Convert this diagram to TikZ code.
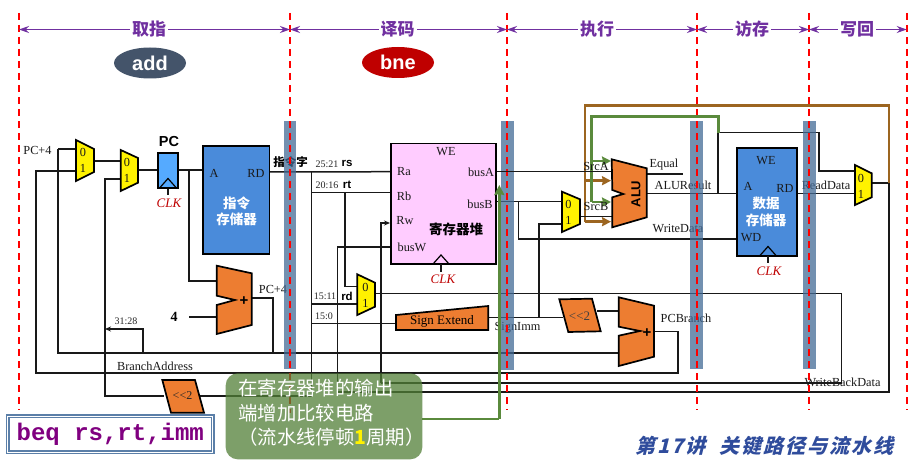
\documentclass[tikz,border=0pt]{standalone}
\usepackage{fontspec}
\usetikzlibrary{arrows.meta,calc,shapes.geometric}
\setmainfont{Liberation Serif}
\newfontfamily\cjk{Noto Sans CJK SC}
\newfontfamily\ttlfont[FakeSlant=0.25,LetterSpace=10,BoldFeatures={FakeSlant=0.25,LetterSpace=10}]{Noto Sans CJK SC}
\newfontfamily\hvb{Liberation Sans}
\newfontfamily\mon{Liberation Mono}
\definecolor{purp}{HTML}{7030A0}
\definecolor{brownw}{HTML}{9C6520}
\definecolor{greenw}{HTML}{5A8A3C}
\definecolor{greenb}{HTML}{528037}
\definecolor{barc}{HTML}{436B96}
\definecolor{orangeb}{HTML}{ED7D31}
\definecolor{memb}{HTML}{4A8BDA}
\definecolor{pcb}{HTML}{55AAFF}
\definecolor{regb}{HTML}{FFCCFF}
\definecolor{ttlc}{HTML}{2F4C9C}
\definecolor{beqb}{HTML}{5B7FA8}
\tikzset{
  wire/.style={draw=black!90,line width=1.5pt,line join=miter},
  arrw/.style={wire,-{Stealth[length=6pt,width=5pt]}},
  brownl/.style={draw=brownw,line width=2.6pt},
  brownarr/.style={brownl,-{Stealth[length=9pt,width=9pt,inset=1pt]}},
  greenl/.style={draw=greenw,line width=2.6pt},
  greenarr/.style={greenl,-{Stealth[length=9pt,width=9pt,inset=1pt]}},
  span/.style={draw=purp,line width=1.1pt,{Stealth[length=10pt,width=7pt]}-{Stealth[length=10pt,width=7pt]}},
  phase/.style={fill=white,inner xsep=2pt,inner ysep=0pt,text=purp,font=\cjk\bfseries\fontsize{17}{17}\selectfont},
  instr/.style={ellipse,minimum width=72pt,minimum height=31pt,inner sep=0pt,text=white,font=\hvb\bfseries\fontsize{20}{20}\selectfont},
  stagebar/.style={fill=barc,opacity=.75,draw=none},
  stagedash/.style={draw=red,line width=1.7pt,dash pattern=on 7pt off 5pt},
  muxs/.style={draw=black,fill=yellow,line width=1.7pt,line join=miter},
  alus/.style={draw=black,fill=orangeb,line width=1.7pt,line join=miter},
  blockm/.style={draw=black,fill=memb,line width=1.7pt,inner sep=0pt},
  lbl/.style={inner sep=0pt,font=\fontsize{12.3}{13}\selectfont,text=black!90},
  sml/.style={inner sep=0pt,font=\fontsize{10}{11}\selectfont,text=black!85},
  bld/.style={inner sep=0pt,font=\hvb\bfseries\fontsize{11.5}{12}\selectfont},
  clk/.style={inner sep=0pt,text=red!75!black,font=\itshape\fontsize{13}{14}\selectfont},
  memt/.style={inner sep=0pt,text=white,align=center,font=\cjk\bfseries\fontsize{13.5}{16.5}\selectfont},
  clkmark/.style={draw=black,line width=1.2pt,line join=miter},
}
\begin{document}
\begin{tikzpicture}[x=1pt,y=-1pt]
\useasboundingbox (0,0) rectangle (921,460);
\fill[white] (0,0) rectangle (921,460);

% ---------- named pins and junctions
\coordinate (m1a) at (76,149);   \coordinate (m1b) at (76,171);   \coordinate (m1o) at (94,161);
\coordinate (m2a) at (121,161);  \coordinate (m2b) at (121,179);  \coordinate (m2o) at (138,170);
\coordinate (pci) at (158,170);  \coordinate (pco) at (178,170);
\coordinate (ima) at (203,170);  \coordinate (imr) at (269.5,172);
\coordinate (pc4s) at (58,149);  \coordinate (j36) at (36,171);
\coordinate (j105a) at (105,179); \coordinate (j105b) at (105,396);
\coordinate (j36b) at (36,373);  \coordinate (j58b) at (58,353);
\coordinate (j189) at (189,170); \coordinate (j189b) at (189,281); \coordinate (a1a) at (217,281);
\coordinate (four) at (189,317); \coordinate (a1b) at (217,317);
\coordinate (a1o) at (252,298);  \coordinate (a1c) at (273,298); \coordinate (a1d) at (273,353);
\coordinate (br1) at (143,353);  \coordinate (br2) at (143,329); \coordinate (br3) at (105,329);
\coordinate (a2b) at (619,353);  \coordinate (a2a) at (619,311);  \coordinate (a2o) at (654,331.5);
\coordinate (a2c) at (678,331.5);\coordinate (a2d) at (678,373);
\coordinate (sl2o) at (597,311); \coordinate (sl2i) at (563,317.5);
\coordinate (seo) at (488,317.5);\coordinate (sei) at (396,323.5);
\coordinate (j539) at (539,317.5);\coordinate (j539b) at (539,224); \coordinate (m3b) at (562,224);
\coordinate (sb2o) at (200,396); \coordinate (sb2i) at (164,396);
\coordinate (j312) at (311.7,396);\coordinate (j312t) at (311.7,171.7);
\coordinate (j312r) at (311.7,192.7);\coordinate (j312d) at (311.7,304);\coordinate (j312e) at (311.7,323.5);
\coordinate (ra) at (391,171.7); \coordinate (rb) at (391,192.7);
\coordinate (j345) at (345,192.7);\coordinate (j345b) at (345,286.7);\coordinate (m4a) at (357,286.7);
\coordinate (m4b) at (357,304);  \coordinate (m4o) at (375,293.5);
\coordinate (j842t) at (841.7,293.5);\coordinate (j842b) at (841.7,383);\coordinate (j381b) at (381,383);
\coordinate (j381t) at (381,223);\coordinate (rw) at (390,223);
\coordinate (j338b) at (337.7,392);\coordinate (j338t) at (337.7,247);\coordinate (busw) at (391,247);
\coordinate (j889b) at (889,392);\coordinate (j889t) at (889,183);\coordinate (m5o) at (872,183);
\coordinate (busa) at (496,171.7);\coordinate (srca) at (612,171.7);
\coordinate (busb) at (496,201.7);\coordinate (m3a) at (562,201.7);
\coordinate (j518) at (518.3,201.7);\coordinate (j518b) at (518.3,239);\coordinate (wd) at (737,239);
\coordinate (m3o) at (580,216.7);\coordinate (srcb) at (612,216.7);
\coordinate (eqo) at (647,174);  \coordinate (eqe) at (682.5,174);
\coordinate (alo) at (647,193.5);\coordinate (dma) at (737,193.5);
\coordinate (j718) at (718,193.5);\coordinate (j718t) at (718,132.7);
\coordinate (j819t) at (819,132.7);\coordinate (j819b) at (819,171);\coordinate (m5a) at (855,171);
\coordinate (dmr) at (797,193.5);\coordinate (m5b) at (855,193.5);
\coordinate (bt1) at (889,105.5);\coordinate (bt2) at (585,105.5);\coordinate (bt3) at (585,221.7);
\coordinate (ba1) at (585,180.7);\coordinate (ba1e) at (611,180.7);\coordinate (ba2e) at (611,221.7);
\coordinate (g1) at (718.3,132.7);\coordinate (g2) at (718.3,116.7);\coordinate (g3) at (591.7,116.7);
\coordinate (g4) at (591.7,202);\coordinate (ga1) at (591.7,161);\coordinate (ga1e) at (611,161);\coordinate (ga2e) at (611,202);
\coordinate (cmpa) at (422,419);\coordinate (cmpb) at (499.3,419);\coordinate (cmpc) at (499.3,185);

% ---------- wires
\draw[wire] (pc4s) -- (m1a);
\draw[wire] (m1b) -- (j36) -- (j36b) -- (a2d) -- (a2c) -- (a2o);
\draw[wire] (m1o) -- (m2a);
\draw[wire] (m2o) -- (pci);
\draw[wire] (pco) -- (ima);
\draw[wire] (m2b) -- (j105a) -- (j105b) -- (sb2i);
\draw[wire] (j189) -- (j189b) -- (a1a);
\draw[wire] (four) -- (a1b);
\draw[wire] (a1o) -- (a1c) -- (a1d);
\draw[wire] (pc4s) -- (j58b) -- (a2b);
\draw[arrw] (br1) -- (br2) -- (br3);
\draw[wire] (imr) -- (ra);
\draw[wire] (j312t) -- (j312) -- (sb2o);
\draw[wire] (j312r) -- (rb);
\draw[wire] (j345) -- (j345b) -- (m4a);
\draw[wire] (j312d) -- (m4b);
\draw[wire] (j312e) -- (sei);
\draw[wire] (seo) -- (sl2i);
\draw[wire] (j539) -- (j539b) -- (m3b);
\draw[wire] (sl2o) -- (a2a);
\draw[wire] (m4o) -- (j842t) -- (j842b) -- (j381b);
\draw[arrw] (j381b) -- (j381t) -- (rw);
\draw[wire] (j889t) -- (j889b) -- (j338b) -- (j338t) -- (busw);
\draw[wire] (m5o) -- (j889t);
\draw[wire] (busa) -- (srca);
\draw[wire] (busb) -- (m3a);
\draw[wire] (j518) -- (j518b) -- (wd);
\draw[wire] (m3o) -- (srcb);
\draw[wire] (eqo) -- (eqe);
\draw[wire] (alo) -- (dma);
\draw[wire] (j718) -- (j718t) -- (j819t) -- (j819b) -- (m5a);
\draw[wire] (dmr) -- (m5b);

% ---------- labels lying under the bars
\node[lbl] (tPCp4a) at (37.5,150) {PC+4};
\node[bld] (tIW) at (290.5,162) {\cjk\bfseries\fontsize{11.5}{12}\selectfont 指令字};
\node[lbl] (tPCp4b) at (273,289) {PC+4};
\node[lbl] (tBA) at (155,366) {BranchAddress};
\node[sml] (t3128) at (126,321) {31:28};
\node[bld,font=\bfseries\fontsize{14}{14}\selectfont] (t4) at (174,317) {4};
\node[sml] (t2521) at (327,164.5) {25:21};
\node[bld] (trs) at (347,163.5) {rs};
\node[sml] (t2016) at (327,185.5) {20:16};
\node[bld] (trt) at (347,184.5) {rt};
\node[sml] (t1511) at (325,296.5) {15:11};
\node[bld] (trd) at (347,296) {rd};
\node[sml] (t150) at (324,316) {15:0};
\node[lbl] (tSI) at (517.5,328) {SignImm};
\node[lbl] (tPCB) at (686,318) {PCBranch};
\node[lbl] (tEq) at (664,165) {Equal};
\node[lbl] (tAR) at (683,185) {ALUResult};
\node[lbl] (tWD) at (678,229) {WriteData};
\node[lbl] (tRDt) at (826,185) {ReadData};
\node[lbl] (tWB) at (842.5,382) {WriteBackData};

% ---------- pipeline bars
\fill[stagebar] (284,121) rectangle (296,369);
\fill[stagebar] (501,121) rectangle (514,369.5);
\fill[stagebar] (690,121) rectangle (703,369);
\fill[stagebar] (803,121) rectangle (816,369);

% ---------- stage boundaries
\coordinate (d0a) at (19,13);  \coordinate (d0b) at (19,410);
\coordinate (d1a) at (290,13); \coordinate (d1b) at (290,413);
\coordinate (d2a) at (507,13); \coordinate (d2b) at (507,410);
\coordinate (d3a) at (697,13); \coordinate (d3b) at (697,410);
\coordinate (d4a) at (809,13); \coordinate (d4b) at (809,410);
\coordinate (d5a) at (906.7,13); \coordinate (d5b) at (906.7,410);
\foreach \n in {0,...,5} {\draw[stagedash] (d\n a) -- (d\n b);}

% ---------- phase spans
\draw[span] (d0a |- 0,29.5) -- (d1a |- 0,29.5);
\draw[span] (d1a |- 0,29.5) -- (d2a |- 0,29.5);
\draw[span] (d2a |- 0,29.5) -- (d3a |- 0,29.5);
\draw[span] (d3a |- 0,29.5) -- (d4a |- 0,29.5);
\draw[span] (d4a |- 0,29.5) -- (d5a |- 0,29.5);
\node[phase] (pIF) at (149,29) {取指};
\node[phase] (pID) at (397.5,29) {译码};
\node[phase] (pEX) at (597,29) {执行};
\node[phase] (pMEM) at (752,29) {访存};
\node[phase] (pWB) at (857,29) {写回};

\node[instr,fill=black!0,fill={rgb,255:red,68;green,84;blue,106}] (iadd) at (150,63) {add};
\node[instr,fill=red!75!black] (ibne) at (398,62.5) {bne};

% ---------- brown and green forwarding paths
\draw[brownl] (j889t) -- (bt1) -- (bt2) -- (bt3);
\draw[brownarr] (bt3) -- (ba2e);
\draw[brownarr] (ba1) -- (ba1e);
\draw[greenl] (g1) -- (g2) -- (g3) -- (g4);
\draw[greenarr] (g4) -- (ga2e);
\draw[greenarr] (ga1) -- (ga1e);
\draw[wire] (busa) -- (srca);
\draw[wire] (m3o) -- (srcb);
\node[lbl] (tSA) at (596,166) {SrcA};
\node[lbl] (tSB) at (596,206) {SrcB};

% ---------- multiplexers
\draw[muxs] (76,140) -- (94,149) -- (94,172) -- (76,181) -- cycle;
\node[lbl] (m1t0) at (83,152) {0};
\node[lbl] (m1t1) at (83,168) {1};
\draw[muxs] (120.7,150) -- (138,158) -- (138,182.7) -- (120.7,191) -- cycle;
\node[lbl] (m2t0) at (127,162) {0};
\node[lbl] (m2t1) at (127,178) {1};
\draw[muxs] (357.3,274.3) -- (375,282.7) -- (375,306.7) -- (357.3,315) -- cycle;
\node[lbl] (m4t0) at (365.5,287) {0};
\node[lbl] (m4t1) at (365.5,303) {1};
\draw[muxs] (562,191.7) -- (580,199.3) -- (580,224) -- (562,232) -- cycle;
\node[lbl] (m3t0) at (568.5,204) {0};
\node[lbl] (m3t1) at (568.5,220) {1};
\draw[muxs] (855,165) -- (871.7,173.3) -- (871.7,197.3) -- (855,205) -- cycle;
\node[lbl] (m5t0) at (861,178) {0};
\node[lbl] (m5t1) at (861,194) {1};

% ---------- PC register
\node[draw=black,fill=pcb,line width=1.7pt,minimum width=20pt,minimum height=35pt,inner sep=0pt] (pcreg) at (168,170.5) {};
\draw[clkmark] (160,187.5) -- (168,178.5) -- (176,187.5);
\coordinate (pcclk) at (168,195);
\draw[wire] (pcreg.south) -- (pcclk);
\node[inner sep=0pt,font=\hvb\bfseries\fontsize{14.5}{15}\selectfont] (tPC) at (169,142) {PC};
\node[clk] (cPC) at (169,203) {CLK};

% ---------- instruction memory
\node[blockm,minimum width=66.5pt,minimum height=108pt] (imem) at (236.3,200) {};
\node[lbl] (tiA) at (214,173) {A};
\node[lbl] (tiRD) at (256,173) {RD};
\node[memt] (tiM) at (236.5,211.5) {指令\\存储器};

% ---------- register file
\node[draw=black,fill=regb,line width=1.7pt,minimum width=105.3pt,minimum height=120.7pt,inner sep=0pt] (rf) at (443.3,203.7) {};
\node[lbl] (trWE) at (446,152) {WE};
\node[lbl] (trRa) at (404,172) {Ra};
\node[lbl] (trRb) at (404,196) {Rb};
\node[lbl] (trRw) at (405,221) {Rw};
\node[lbl] (trbW) at (412,247) {busW};
\node[lbl] (trbA) at (481,172.5) {busA};
\node[lbl] (trbB) at (480,204) {busB};
\node[inner sep=0pt,font=\cjk\bfseries\fontsize{13.5}{14}\selectfont] (trT) at (456,229) {寄存器堆};
\draw[clkmark] (433,264) -- (441,255) -- (449,264);
\coordinate (rfclkt) at (441,264); \coordinate (rfclk) at (441,272);
\draw[wire] (rfclkt) -- (rfclk);
\node[clk] (cRF) at (443,279) {CLK};

% ---------- data memory
\node[blockm,minimum width=60pt,minimum height=107.4pt] (dmem) at (766.7,202) {};
\node[lbl] (tdWE) at (766,161) {WE};
\node[lbl] (tdA) at (748,186) {A};
\node[lbl] (tdRD) at (785,188) {RD};
\node[lbl] (tdWD) at (751,238) {WD};
\node[memt] (tdM) at (766,212) {数据\\存储器};
\draw[clkmark] (760,255.5) -- (768,246.5) -- (776,255.5);
\coordinate (dmclkt) at (768,255.5); \coordinate (dmclk) at (768,263);
\draw[wire] (dmclkt) -- (dmclk);
\node[clk] (cDM) at (769,271) {CLK};

% ---------- adders and ALU
\draw[alus] (216.7,265.7) -- (251.7,273.3) -- (251.7,325) -- (216.7,334) -- (216.7,305) -- (235,300) -- (216.7,295.7) -- cycle;
\node[inner sep=0pt,font=\hvb\bfseries\fontsize{15}{15}\selectfont] (ap1) at (244,301) {+};
\draw[alus] (618.7,297.3) -- (654,305.7) -- (654,356.7) -- (618.7,366) -- (618.7,335.7) -- (640,331) -- (618.7,326.7) -- cycle;
\node[inner sep=0pt,font=\hvb\bfseries\fontsize{15}{15}\selectfont] (ap2) at (647,333) {+};
\draw[alus] (611.7,159.3) -- (646.7,168.3) -- (646.7,217.3) -- (612.3,227.3) -- (612.3,197.3) -- (623.3,194) -- (612.3,190) -- cycle;
\node[inner sep=0pt,rotate=90,font=\hvb\bfseries\fontsize{13}{13}\selectfont] (tALU) at (636,194) {ALU};

% ---------- sign extend and shifters
\draw[alus] (396,315) -- (488.3,306) -- (488.3,330) -- (396,330) -- cycle;
\node[inner sep=0pt,font=\fontsize{13}{14}\selectfont] (tSE) at (442,321) {Sign Extend};
\draw[alus] (559.3,299.3) -- (592,298.7) -- (600.7,331.3) -- (568.3,332) -- cycle;
\node[inner sep=0pt,font=\fontsize{13}{14}\selectfont,text=black!75] (tS1) at (579.5,316) {<{}<2};
\draw[alus] (162.3,380) -- (195,380) -- (204,412.7) -- (171,412.7) -- cycle;
\node[inner sep=0pt,font=\fontsize{12}{13}\selectfont,text=black!85] (tS2) at (182.5,396) {<{}<2};

% ---------- comparator note
\draw[greenl] (cmpa) -- (cmpb);
\draw[greenl,-{Stealth[length=10pt,width=10pt,inset=1pt]}] (cmpb) -- (cmpc);
\node[rounded corners=12pt,fill=greenb,opacity=.75,text opacity=1,minimum width=196.6pt,minimum height=86pt,inner sep=0pt] (note) at (324,416.3) {};
\node[anchor=north west,inner sep=0pt,text=white,align=left,font=\cjk\fontsize{19.4}{24.5}\selectfont] (noteT) at (238,379) {在寄存器堆的输出\\端增加比较电路\\（流水线停顿{\color{yellow}\bfseries 1}周期）};

% ---------- instruction caption and title
\node[draw=beqb,fill=white,line width=1.2pt,double=white,double distance=1.2pt,minimum width=205pt,minimum height=36pt,inner sep=0pt,text={rgb,255:red,128;green,0;blue,128},font=\mon\bfseries\fontsize{24}{24}\selectfont] (beq) at (110.3,434.2) {beq rs,rt,imm};
\node[inner sep=0pt,anchor=west,text=ttlc,font=\ttlfont\bfseries\fontsize{20}{20}\selectfont] (ttl) at (635,446) {第17讲\hspace{14pt}关键路径与流水线};
\end{tikzpicture}
\end{document}
